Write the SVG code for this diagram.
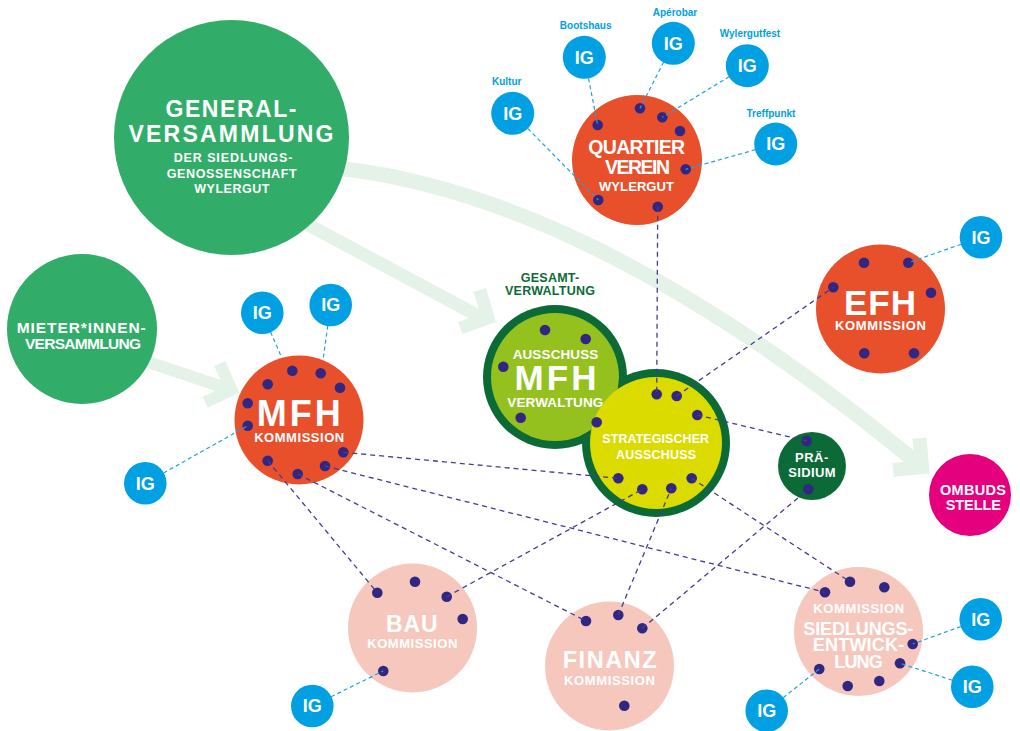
<svg xmlns="http://www.w3.org/2000/svg" width="1020" height="731" viewBox="0 0 1020 731">
<style>
text{font-family:"Liberation Sans",Arial,sans-serif;font-weight:bold;text-anchor:middle}
.w{fill:#ffffff}
.ig{fill:#00a0e3}
.igt{fill:#ffffff;font-size:18px}
.lab{fill:#00a0e3;font-size:10px}
.dot{fill:#312783}
.red{fill:#e8502c}
.gr{fill:#31ad69}
.pink{fill:#f6c8bd}
.dk{stroke:#433c96;stroke-width:1.3;stroke-dasharray:5 4;fill:none}
.bl{stroke:#1aa3e2;stroke-width:1.2;stroke-dasharray:4 3;fill:none}
.arr{stroke:#e5f2e7;fill:none;stroke-linejoin:miter;stroke-miterlimit:10}
</style>
<defs>
<mask id="m1"><rect x="0" y="0" width="1020" height="731" fill="#fff"/><circle cx="555" cy="377" r="64" fill="#000"/></mask>
</defs>
<rect width="1020" height="731" fill="#ffffff"/>

<g id="flows">
<path class="arr" stroke-width="15" d="M325,167 L345,169 Q600,200 922,467"/>
<polyline class="arr" stroke-width="14" points="893.1,470 922,467 919.5,438.1"/>
<path class="arr" stroke-width="13" d="M290,215 L484,319"/>
<polyline class="arr" stroke-width="13" points="460.2,328 488,318 479.8,290"/>
<path class="arr" stroke-width="12" d="M130,356 L231.5,390"/>
<polyline class="arr" stroke-width="12" points="205.1,402.2 231.5,389.9 219.7,363.5"/>
</g>

<g id="generalversammlung">
<circle class="gr" cx="231.5" cy="137.5" r="117.5"/>
<text class="w" x="231" y="116.7" font-size="23" textLength="131">GENERAL-</text>
<text class="w" x="231" y="141.7" font-size="23" textLength="205">VERSAMMLUNG</text>
<text class="w" x="233" y="161.7" font-size="12.5" textLength="118.7">DER SIEDLUNGS-</text>
<text class="w" x="231.7" y="177.7" font-size="12.5" textLength="130">GENOSSENSCHAFT</text>
<text class="w" x="231.8" y="193.3" font-size="12.5" textLength="75">WYLERGUT</text>
</g>

<g id="mieterversammlung">
<circle class="gr" cx="82" cy="329" r="75"/>
<text class="w" x="81.2" y="333.3" font-size="15.5" textLength="129">MIETER*INNEN-</text>
<text class="w" x="83" y="349" font-size="15.5" textLength="116">VERSAMMLUNG</text>
</g>

<g id="mfh-kommission">
<circle class="red" cx="299" cy="420" r="64.5"/>
<text class="w" x="298.7" y="425.7" font-size="36" textLength="84">MFH</text>
<text class="w" x="299.2" y="442.3" font-size="13" textLength="90">KOMMISSION</text>
<circle class="dot" cx="292.3" cy="370.7" r="5.3"/>
<circle class="dot" cx="320.7" cy="373.3" r="5.3"/>
<circle class="dot" cx="267.7" cy="384.3" r="5.3"/>
<circle class="dot" cx="340" cy="387.7" r="5.3"/>
<circle class="dot" cx="247.7" cy="403.3" r="5.3"/>
<circle class="dot" cx="247.7" cy="425.7" r="5.3"/>
<circle class="dot" cx="343.3" cy="452.3" r="5.3"/>
<circle class="dot" cx="267.7" cy="460.7" r="5.3"/>
<circle class="dot" cx="325" cy="466" r="5.3"/>
<circle class="dot" cx="297.7" cy="474" r="5.3"/>
</g>

<g id="quartierverein">
<circle class="red" cx="637" cy="160" r="65"/>
<text class="w" x="636.7" y="154.3" font-size="19.5" textLength="96.7">QUARTIER</text>
<text class="w" x="637.5" y="174.3" font-size="19.5" textLength="65">VEREIN</text>
<text class="w" x="636.5" y="190.7" font-size="13" textLength="75">WYLERGUT</text>
<circle class="dot" cx="597.7" cy="125" r="5.3"/>
<circle class="dot" cx="640" cy="108.3" r="5.3"/>
<circle class="dot" cx="662.3" cy="117.3" r="5.3"/>
<circle class="dot" cx="680" cy="131" r="5.3"/>
<circle class="dot" cx="685.7" cy="169.3" r="5.3"/>
<circle class="dot" cx="598.3" cy="200" r="5.3"/>
<circle class="dot" cx="657.7" cy="206.7" r="5.3"/>
</g>

<g id="efh-kommission">
<circle class="red" cx="880.5" cy="309" r="64.5"/>
<text class="w" x="880" y="315" font-size="35" textLength="72">EFH</text>
<text class="w" x="880.5" y="330" font-size="13" textLength="91">KOMMISSION</text>
<circle class="dot" cx="864" cy="262.7" r="5.3"/>
<circle class="dot" cx="908.3" cy="262.7" r="5.3"/>
<circle class="dot" cx="833.3" cy="287.3" r="5.3"/>
<circle class="dot" cx="931" cy="292.7" r="5.3"/>
<circle class="dot" cx="864.3" cy="353.3" r="5.3"/>
<circle class="dot" cx="914" cy="353.3" r="5.3"/>
</g>

<g id="gesamtverwaltung-label">
<text x="550" y="281.7" font-size="12.5" fill="#0b6a36" textLength="58.3">GESAMT-</text>
<text x="550" y="295" font-size="12.5" fill="#0b6a36" textLength="90">VERWALTUNG</text>
</g>

<g id="ausschuss-mfh">
<circle cx="555" cy="377" r="72" fill="#0b6a36"/>
<circle cx="555" cy="377" r="64" fill="#95c11f"/>
<text class="w" x="555.5" y="359" font-size="13.5" textLength="85.7">AUSSCHUSS</text>
<text class="w" x="555.5" y="390" font-size="35" textLength="82">MFH</text>
<text class="w" x="555.3" y="406.7" font-size="13.5" textLength="96">VERWALTUNG</text>
<circle class="dot" cx="545" cy="330" r="5.3"/>
<circle class="dot" cx="585.7" cy="339" r="5.3"/>
<circle class="dot" cx="503.3" cy="366.7" r="5.3"/>
<circle class="dot" cx="520.7" cy="417.7" r="5.3"/>
</g>

<g id="strategischer-ausschuss">
<circle cx="656" cy="443" r="74" fill="#0b6a36" mask="url(#m1)"/>
<circle cx="656" cy="443" r="66" fill="#dbdb00"/>
<text class="w" x="655.7" y="443.3" font-size="12.5" textLength="106.7">STRATEGISCHER</text>
<text class="w" x="656" y="459" font-size="12.5" textLength="80">AUSSCHUSS</text>
<circle class="dot" cx="596.7" cy="422.3" r="5.3"/>
<circle class="dot" cx="656.7" cy="394.3" r="5.3"/>
<circle class="dot" cx="676.7" cy="396" r="5.3"/>
<circle class="dot" cx="697.3" cy="415" r="5.3"/>
<circle class="dot" cx="618.3" cy="478.3" r="5.3"/>
<circle class="dot" cx="642.3" cy="489.3" r="5.3"/>
<circle class="dot" cx="671.3" cy="488.3" r="5.3"/>
<circle class="dot" cx="691.7" cy="478.3" r="5.3"/>
</g>

<g id="praesidium">
<circle cx="812" cy="466" r="34" fill="#0b6a36"/>
<text class="w" x="811.7" y="461.7" font-size="13" textLength="33.3">PRÄ-</text>
<text class="w" x="812" y="477.3" font-size="13" textLength="47.3">SIDIUM</text>
<circle class="dot" cx="806.7" cy="441" r="5.3"/>
<circle class="dot" cx="808.3" cy="489.3" r="5.3"/>
</g>

<g id="ombudsstelle">
<circle cx="970" cy="495" r="41" fill="#e5007d"/>
<text class="w" x="973" y="495" font-size="14.5" textLength="66">OMBUDS</text>
<text class="w" x="973.3" y="510" font-size="14.5" textLength="55">STELLE</text>
</g>

<g id="bau-kommission">
<circle class="pink" cx="412.5" cy="628" r="64.5"/>
<text class="w" x="411.8" y="631.7" font-size="23" textLength="51.7">BAU</text>
<text class="w" x="412.3" y="648.3" font-size="13" textLength="90">KOMMISSION</text>
<circle class="dot" cx="377.3" cy="592.7" r="5.3"/>
<circle class="dot" cx="415" cy="581.7" r="5.3"/>
<circle class="dot" cx="446.7" cy="596.7" r="5.3"/>
<circle class="dot" cx="462.7" cy="619" r="5.3"/>
<circle class="dot" cx="383.3" cy="671" r="5.3"/>
</g>

<g id="finanz-kommission">
<circle class="pink" cx="609.5" cy="666" r="64.5"/>
<text class="w" x="609.7" y="668.3" font-size="23.5" textLength="94">FINANZ</text>
<text class="w" x="609.5" y="685" font-size="13" textLength="91">KOMMISSION</text>
<circle class="dot" cx="586" cy="621" r="5.3"/>
<circle class="dot" cx="618.3" cy="615" r="5.3"/>
<circle class="dot" cx="642.3" cy="628.3" r="5.3"/>
<circle class="dot" cx="624.3" cy="705.7" r="5.3"/>
</g>

<g id="siedlungsentwicklung">
<circle class="pink" cx="858.5" cy="631.5" r="64.5"/>
<text class="w" x="858.7" y="613.3" font-size="13" textLength="90.7">KOMMISSION</text>
<text class="w" x="858.3" y="635" font-size="18" textLength="110">SIEDLUNGS-</text>
<text class="w" x="858.5" y="651" font-size="18" textLength="91.7">ENTWICK-</text>
<text class="w" x="858.5" y="668.3" font-size="18" textLength="48.3">LUNG</text>
<circle class="dot" cx="850" cy="581.7" r="5.3"/>
<circle class="dot" cx="825" cy="592.3" r="5.3"/>
<circle class="dot" cx="884.3" cy="587.3" r="5.3"/>
<circle class="dot" cx="912.7" cy="644" r="5.3"/>
<circle class="dot" cx="900" cy="663.3" r="5.3"/>
<circle class="dot" cx="819.3" cy="669" r="5.3"/>
<circle class="dot" cx="847.7" cy="686" r="5.3"/>
<circle class="dot" cx="879.3" cy="681" r="5.3"/>
</g>

<g id="ig-kultur"><text class="lab" x="506.7" y="84.5">Kultur</text><circle class="ig" cx="512.7" cy="113.3" r="21.5"/><text class="igt" x="512.7" y="119.7">IG</text></g>
<g id="ig-bootshaus"><text class="lab" x="585.7" y="29.3">Bootshaus</text><circle class="ig" cx="584.3" cy="57.3" r="21.5"/><text class="igt" x="584.3" y="63.7">IG</text></g>
<g id="ig-aperobar"><text class="lab" x="675" y="16.3">Apérobar</text><circle class="ig" cx="673.3" cy="43.3" r="21.5"/><text class="igt" x="673.3" y="49.7">IG</text></g>
<g id="ig-wylergutfest"><text class="lab" x="750" y="37">Wylergutfest</text><circle class="ig" cx="747.3" cy="65.7" r="21.5"/><text class="igt" x="747.3" y="72.1">IG</text></g>
<g id="ig-treffpunkt"><text class="lab" x="771" y="117">Treffpunkt</text><circle class="ig" cx="775.7" cy="144" r="21.5"/><text class="igt" x="775.7" y="150.4">IG</text></g>
<g id="ig-mfh-1"><circle class="ig" cx="262.3" cy="312.7" r="21.3"/><text class="igt" x="262.3" y="319.1">IG</text></g>
<g id="ig-mfh-2"><circle class="ig" cx="330.7" cy="305" r="21.3"/><text class="igt" x="330.7" y="311.4">IG</text></g>
<g id="ig-mfh-3"><circle class="ig" cx="145.3" cy="483.3" r="21.3"/><text class="igt" x="145.3" y="489.7">IG</text></g>
<g id="ig-efh"><circle class="ig" cx="981" cy="237.3" r="21.3"/><text class="igt" x="981" y="243.7">IG</text></g>
<g id="ig-bau"><circle class="ig" cx="312.3" cy="706" r="21.3"/><text class="igt" x="312.3" y="712.4">IG</text></g>
<g id="ig-sied-1"><circle class="ig" cx="980.7" cy="619.3" r="21.3"/><text class="igt" x="980.7" y="625.7">IG</text></g>
<g id="ig-sied-2"><circle class="ig" cx="972.3" cy="686.7" r="21.3"/><text class="igt" x="972.3" y="693.1">IG</text></g>
<g id="ig-sied-3"><circle class="ig" cx="766.7" cy="710.7" r="21.3"/><text class="igt" x="766.7" y="717.1">IG</text></g>

<g id="connectors">
<line class="dk" x1="657.7" y1="206.7" x2="656.7" y2="394.3"/>
<line class="dk" x1="676.7" y1="396" x2="833.3" y2="287.3"/>
<line class="dk" x1="697.3" y1="415" x2="806.7" y2="441"/>
<line class="dk" x1="343.3" y1="452.3" x2="618.3" y2="478.3"/>
<line class="dk" x1="325" y1="466" x2="825" y2="592.3"/>
<line class="dk" x1="297.7" y1="474" x2="586" y2="621"/>
<line class="dk" x1="267.7" y1="460.7" x2="377.3" y2="592.7"/>
<line class="dk" x1="446.7" y1="596.7" x2="642.3" y2="489.3"/>
<line class="dk" x1="618.3" y1="615" x2="671.3" y2="488.3"/>
<line class="dk" x1="642.3" y1="628.3" x2="808.3" y2="489.3"/>
<line class="dk" x1="691.7" y1="478.3" x2="850" y2="581.7"/>
<line class="bl" x1="527.8" y1="128.6" x2="598.3" y2="200"/>
<line class="bl" x1="588.5" y1="78.4" x2="597.7" y2="125"/>
<line class="bl" x1="663.7" y1="62" x2="640" y2="108.3"/>
<line class="bl" x1="729.3" y1="76.6" x2="662.3" y2="117.3"/>
<line class="bl" x1="755.5" y1="149.7" x2="685.7" y2="169.3"/>
<line class="bl" x1="270.6" y1="332" x2="281" y2="356"/>
<line class="bl" x1="327.8" y1="325.8" x2="323" y2="360"/>
<line class="bl" x1="163.6" y1="473" x2="247.7" y2="425.7"/>
<line class="bl" x1="961.2" y1="244.2" x2="908.3" y2="262.7"/>
<line class="bl" x1="331.1" y1="696.7" x2="383.3" y2="671"/>
<line class="bl" x1="960.9" y1="626.5" x2="912.7" y2="644"/>
<line class="bl" x1="952.3" y1="680.2" x2="900" y2="663.3"/>
<line class="bl" x1="783.2" y1="697.7" x2="819.3" y2="669"/>
</g>
</svg>
